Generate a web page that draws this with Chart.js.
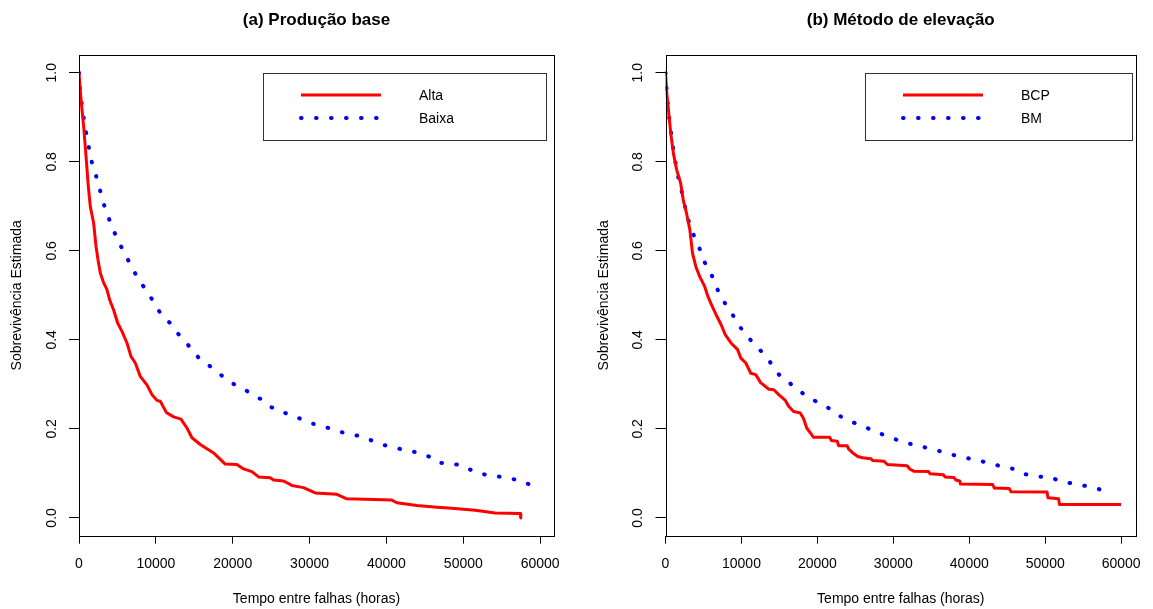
<!DOCTYPE html>
<html><head><meta charset="utf-8">
<script src="https://cdn.jsdelivr.net/npm/chart.js@4"></script>
<style>
html,body{margin:0;padding:0;background:#fff;width:1153px;height:609px;overflow:hidden}
canvas{position:absolute;top:0}
#c1{left:0}
#c2{left:576px}
</style></head><body>
<canvas id="c1" width="576" height="609"></canvas>
<canvas id="c2" width="577" height="609"></canvas>
<script>
// ---- data ----
const titles = ["(a) Produção base", "(b) Método de elevação"];
const xTitle = "Tempo entre falhas (horas)";
const yTitle = "Sobrevivência Estimada";
const xTicks = [0, 10000, 20000, 30000, 40000, 50000, 60000];
const xTickLabels = ["0", "10000", "20000", "30000", "40000", "50000", "60000"];
const yTicks = [0, 0.2, 0.4, 0.6, 0.8, 1.0];
const yTickLabels = ["0.0", "0.2", "0.4", "0.6", "0.8", "1.0"];

const altaT = [0,260,607,954,1214,1474,1907,2211,2471,2774,3208,3641,3988,4508,5028,5592,6242,6762,7325,7975,8842,9493,10143,10577,11357,12310,13264,14044,14695,15778,17512,19029,20546,21413,22497,23364,24881,25314,26614,27698,29215,30732,33549,34851,40702,41352,43953,46554,48071,51539,54140,57391,57478];
const altaS = [1.0,0.94,0.879,0.804,0.744,0.699,0.662,0.61,0.58,0.55,0.528,0.513,0.49,0.467,0.438,0.419,0.393,0.363,0.348,0.318,0.299,0.277,0.264,0.262,0.237,0.227,0.222,0.202,0.18,0.165,0.146,0.121,0.12,0.11,0.104,0.092,0.09,0.085,0.083,0.073,0.068,0.056,0.053,0.043,0.040,0.034,0.028,0.024,0.022,0.017,0.011,0.010,0.0];

const baixaT = [0,87,303,520,780,1084,1387,1734,2211,2644,3034,3511,4031,4595,5202,5852,6545,7195,7889,8756,9493,10187,11053,12050,12874,13784,14651,15561,16688,17728,18855,19983,21326,22454,23754,24751,26224,27482,29042,30343,31903,33377,34851,36498,37928,39315,40832,42436,44083,45514,46684,48461,50108,51322,52882,54616,56263,57824,59124];
const baixaS = [1.0,0.969,0.938,0.909,0.879,0.85,0.822,0.794,0.769,0.743,0.715,0.69,0.666,0.642,0.619,0.597,0.574,0.553,0.531,0.512,0.491,0.47,0.45,0.435,0.414,0.397,0.379,0.36,0.346,0.331,0.316,0.302,0.291,0.278,0.266,0.25,0.242,0.229,0.222,0.212,0.205,0.197,0.189,0.184,0.175,0.165,0.159,0.152,0.147,0.138,0.124,0.122,0.117,0.104,0.097,0.093,0.088,0.082,0.07];

const bcpT = [0,173,433,694,1040,1474,1994,2341,2774,3208,3554,3988,4508,5158,5592,6155,6762,7325,7889,8626,9493,9926,10577,11227,11877,12527,13611,14261,14911,15778,16212,16862,17729,18162,18596,19246,19462,21630,21846,22627,22800,23927,24101,24664,25314,25965,27048,27265,28782,29215,31816,32163,32683,34634,34850,36584,36801,37972,38232,38752,38839,43087,43303,45254,45470,50238,50368,51755,51885,59991];
const bcpS = [1.0,0.954,0.909,0.864,0.819,0.782,0.752,0.714,0.684,0.647,0.595,0.565,0.542,0.52,0.497,0.475,0.453,0.434,0.411,0.393,0.378,0.359,0.348,0.325,0.322,0.304,0.289,0.288,0.277,0.264,0.251,0.239,0.236,0.224,0.202,0.187,0.181,0.181,0.174,0.172,0.162,0.162,0.155,0.146,0.138,0.135,0.133,0.129,0.127,0.12,0.117,0.11,0.105,0.104,0.099,0.097,0.092,0.091,0.085,0.083,0.076,0.075,0.067,0.066,0.059,0.058,0.045,0.043,0.03,0.03];

const bmT = [0,130,260,433,650,867,1127,1430,1734,2124,2471,2818,3294,3858,4465,4942,5635,6329,6849,7542,8236,9103,9796,10707,11530,12570,13481,14218,15085,16255,17339,18423,19679,21023,22107,23320,24620,26094,27395,28825,30213,31686,33333,34764,36368,37928,39489,41136,42653,44257,45817,47161,48808,50585,52059,53663,55267,56914,58214];
const bmS = [1.0,0.967,0.937,0.907,0.877,0.847,0.817,0.788,0.761,0.734,0.707,0.679,0.654,0.629,0.606,0.581,0.559,0.537,0.513,0.491,0.47,0.45,0.429,0.411,0.392,0.375,0.358,0.338,0.319,0.304,0.29,0.275,0.263,0.252,0.239,0.225,0.215,0.206,0.195,0.186,0.177,0.168,0.163,0.155,0.149,0.141,0.135,0.13,0.122,0.116,0.11,0.099,0.093,0.092,0.082,0.077,0.072,0.066,0.055];

// ---- helpers ----
const FONT = '"Liberation Sans", Arial, Helvetica, sans-serif';
const pts = (t, s) => t.map((v, i) => ({x: v, y: s[i]}));
const DOT = [0.6, 14.4];

const framePlugin = {
  id: 'frame',
  afterDraw(chart, args, o) {
    const {ctx, chartArea: a} = chart;
    ctx.save();
    // plot box
    ctx.strokeStyle = '#000'; ctx.lineWidth = 1;
    ctx.strokeRect(Math.round(a.left) + 0.5, Math.round(a.top) + 0.5,
      Math.round(a.right - a.left), Math.round(a.bottom - a.top));
    // title
    ctx.fillStyle = '#000';
    ctx.font = 'bold 17px ' + FONT;
    ctx.textAlign = 'center'; ctx.textBaseline = 'alphabetic';
    ctx.fillText(o.title, (a.left + a.right) / 2, 25);
    // legend
    const L = o.legend;
    ctx.strokeStyle = '#333'; ctx.lineWidth = 1;
    ctx.strokeRect(L.x0 + 0.5, L.y0 + 0.5, L.x1 - L.x0, L.y1 - L.y0);
    chart.data.datasets.forEach((ds, i) => {
      const y = L.rows[i];
      ctx.beginPath();
      ctx.strokeStyle = ds.borderColor;
      ctx.lineWidth = ds.borderWidth;
      ctx.lineCap = ds.borderCapStyle || 'butt';
      ctx.setLineDash(ds.borderDash || []);
      ctx.moveTo(L.lx0, y); ctx.lineTo(L.lx1, y);
      ctx.stroke();
      ctx.setLineDash([]);
      ctx.fillStyle = '#000';
      ctx.font = '14px ' + FONT;
      ctx.textAlign = 'left'; ctx.textBaseline = 'middle';
      ctx.fillText(ds.label, L.tx, y + 1);
    });
    ctx.restore();
  }
};

function makePanel(id, p) {
  return new Chart(document.getElementById(id), {
    type: 'line',
    data: {
      datasets: [
        {label: p.labels[0], data: pts(p.t1, p.s1), borderColor: '#ff0000', borderWidth: 3,
         pointRadius: 0, tension: 0, fill: false, borderJoinStyle: 'round'},
        {label: p.labels[1], data: pts(p.t2, p.s2), borderColor: '#0000ff', borderWidth: 4,
         borderDash: DOT, borderCapStyle: 'round', pointRadius: 0, tension: 0, fill: false}
      ]
    },
    options: {
      responsive: false,
      animation: false,
      devicePixelRatio: 1,
      layout: {padding: {left: 0, right: p.padRight, top: 55, bottom: 0}},
      plugins: {legend: {display: false}, tooltip: {enabled: false}, title: {display: false},
        frame: {title: p.title, legend: p.legend}},
      scales: {
        x: {
          type: 'linear', min: 0, max: p.xMax,
          afterBuildTicks: s => { s.ticks = xTicks.map(v => ({value: v})); },
          afterFit: s => { s.height = 73.3; },
          ticks: {callback: (v, i) => xTickLabels[i], color: '#000', font: {family: FONT, size: 14},
            padding: 12, maxRotation: 0, minRotation: 0, autoSkip: false},
          grid: {display: true, drawOnChartArea: false, drawTicks: true, tickLength: 8, color: '#000', lineWidth: 1},
          border: {display: false},
          title: {display: true, text: xTitle, color: '#000', font: {family: FONT, size: 14}, padding: {top: 0, bottom: 1}}
        },
        y: {
          type: 'linear', min: -0.04, max: 1.04,
          afterBuildTicks: s => { s.ticks = yTicks.map(v => ({value: v})); },
          afterFit: s => { s.width = p.yWidth; },
          ticks: {callback: (v, i) => yTickLabels[i], color: '#000', font: {family: FONT, size: 14},
            padding: 7.6, minRotation: 90, maxRotation: 90, crossAlign: 'center', autoSkip: false},
          grid: {display: true, drawOnChartArea: false, drawTicks: true, tickLength: 10, color: '#000', lineWidth: 1},
          border: {display: false},
          title: {display: true, text: yTitle, color: '#000', font: {family: FONT, size: 14}, padding: {top: p.yTitlePad, bottom: 0}}
        }
      }
    },
    plugins: [framePlugin]
  });
}

makePanel('c1', {
  title: titles[0], labels: ['Alta', 'Baixa'],
  t1: altaT, s1: altaS, t2: baixaT, s2: baixaS,
  xMax: 61800, yWidth: 79, padRight: 22, yTitlePad: 9,
  legend: {x0: 263, y0: 73, x1: 546, y1: 140, lx0: 301, lx1: 381, tx: 419, rows: [95, 118]}
});
makePanel('c2', {
  title: titles[1], labels: ['BCP', 'BM'],
  t1: bcpT, s1: bcpS, t2: bmT, s2: bmS,
  xMax: 61950, yWidth: 89.5, padRight: 11.3, yTitlePad: 20,
  legend: {x0: 289, y0: 73, x1: 556, y1: 140, lx0: 327, lx1: 407, tx: 445, rows: [95, 118]}
});
</script>
</body></html>
